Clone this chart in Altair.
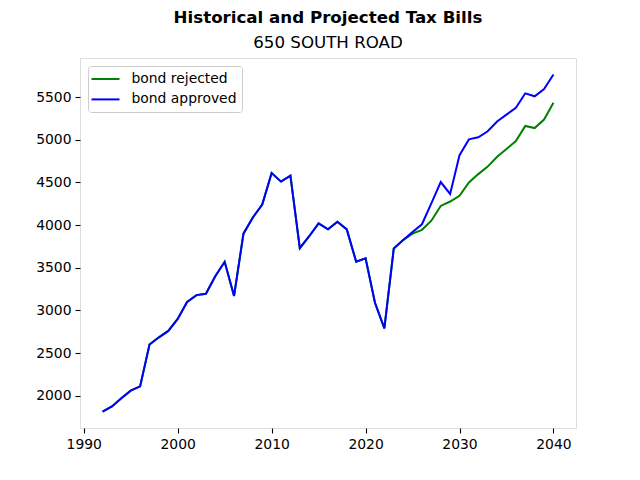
import altair as alt
import pandas as pd

years = list(range(1992, 2041))

bond_approved = [
    1815, 1875, 1970, 2060, 2110, 2600, 2685, 2760, 2900, 3100,
    3180, 3195, 3400, 3570, 3170, 3900, 4090, 4240, 4610, 4510,
    4580, 3730, 3870, 4020, 3950, 4040, 3950, 3570, 3610, 3090,
    2790, 3725, 3825, 3920, 4010, 4255, 4505, 4365, 4820, 5005,
    5030, 5100, 5215, 5295, 5375, 5545, 5510, 5595, 5765,
]

bond_rejected = [
    1815, 1875, 1970, 2060, 2110, 2600, 2685, 2760, 2900, 3100,
    3180, 3195, 3400, 3570, 3170, 3900, 4090, 4240, 4610, 4510,
    4580, 3730, 3870, 4020, 3950, 4040, 3950, 3570, 3610, 3090,
    2790, 3725, 3825, 3900, 3945, 4052, 4225, 4277, 4343, 4500,
    4598, 4686, 4802, 4892, 4985, 5162, 5138, 5237, 5434,
]

series_names = ["bond rejected", "bond approved"]
series_colors = ["#008000", "#0000ff"]
x_ticks = [1990, 2000, 2010, 2020, 2030, 2040]
y_ticks = [2000, 2500, 3000, 3500, 4000, 4500, 5000, 5500]

df = pd.concat([
    pd.DataFrame({"year": years, "bill": bond_rejected, "series": series_names[0]}),
    pd.DataFrame({"year": years, "bill": bond_approved, "series": series_names[1]}),
])

FONT = "DejaVu Sans"

x_enc = alt.X("year:Q",
              scale=alt.Scale(domain=[1989.6, 2042.4], nice=False, zero=False),
              axis=alt.Axis(values=x_ticks, format="d", title=None, grid=False,
                            domain=False, tickColor="black", tickSize=5, tickWidth=1.1,
                            labelColor="black", labelFontSize=13.9, labelFont=FONT,
                            labelPadding=4, labelFlush=False))
y_enc = alt.Y("bill:Q",
              scale=alt.Scale(domain=[1622, 5959], nice=False, zero=False),
              axis=alt.Axis(values=y_ticks, title=None, grid=False, domain=False,
                            tickColor="black", tickSize=5, tickWidth=1.1,
                            labelColor="black", labelFontSize=13.9, labelFont=FONT,
                            labelPadding=4, format="d"))
color_enc = alt.Color("series:N",
                      scale=alt.Scale(domain=series_names, range=series_colors),
                      legend=alt.Legend(title=None, orient="top-left", offset=8,
                                        symbolType="M-2,0H2", symbolSize=196,
                                        symbolStrokeWidth=2, symbolOffset=4.5,
                                        labelFontSize=13.9,
                                        labelFont=FONT, labelColor="black",
                                        labelOffset=18, rowPadding=5.4, padding=5,
                                        fillColor="white", strokeColor="#cccccc",
                                        cornerRadius=3))

base = alt.Chart(df)
rej = base.transform_filter(alt.datum.series == series_names[0]).mark_line(strokeWidth=2).encode(
    x=x_enc, y=y_enc, color=color_enc)
app = base.transform_filter(alt.datum.series == series_names[1]).mark_line(strokeWidth=2).encode(
    x=x_enc, y=y_enc, color=color_enc)

chart = alt.layer(rej, app).properties(
    width=496, height=370,
    autosize=alt.AutoSizeParams(type="none"),
    padding={"left": 72, "top": 50, "right": 56, "bottom": 44},
    title=alt.TitleParams(
        text="Historical and Projected Tax Bills",
        subtitle="650 SOUTH ROAD",
        font=FONT, fontSize=16.67, fontWeight="bold", color="black",
        subtitleFont=FONT, subtitleFontSize=16.67, subtitleColor="black",
        subtitlePadding=9, offset=6, anchor="middle",
    ),
).configure_view(stroke="black", strokeWidth=1.1).configure(background="white")

chart.save("out.html", embed_options={"renderer": "svg", "actions": False})
